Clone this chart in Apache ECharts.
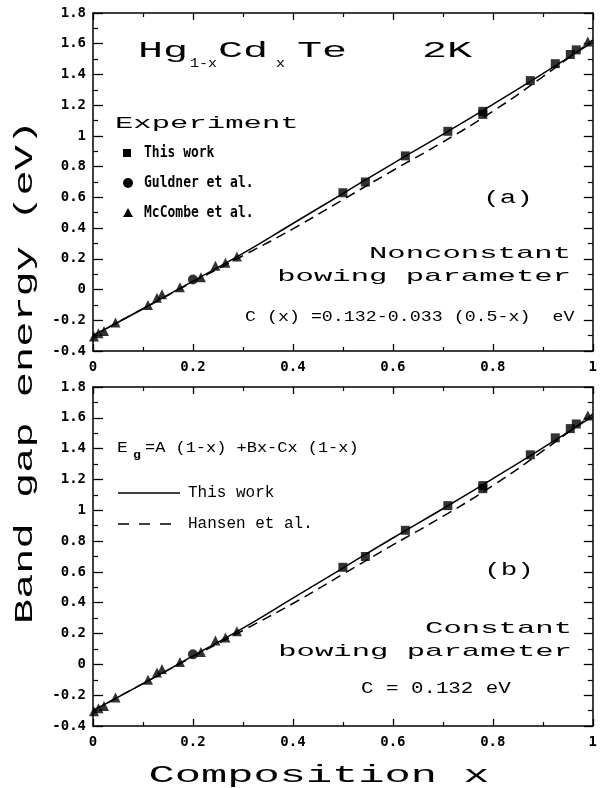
<!DOCTYPE html>
<html>
<head>
<meta charset="utf-8">
<script src="https://cdn.jsdelivr.net/npm/echarts@6/dist/echarts.min.js"></script>
<style>
  html, body { margin: 0; padding: 0; background: #fff; }
  #chart { width: 600px; height: 788px; }
</style>
</head>
<body>
<div id="chart"></div>
<script>
// Band gap of Hg(1-x)Cd(x)Te at 2 K versus composition x.

// Calculated curves, sampled along the composition axis
const compGrid      = [0.0, 0.1, 0.2, 0.3, 0.4, 0.5, 0.6, 0.7, 0.8, 0.9, 1.0];
const thisWorkCurve = [-0.30, -0.125, 0.055, 0.235, 0.43, 0.625, 0.82, 1.01, 1.205, 1.405, 1.61];
const hansenCurve   = [-0.30, -0.125, 0.05, 0.22, 0.395, 0.585, 0.775, 0.96, 1.16, 1.385, 1.625];

// Experimental points
const thisWorkX = [0.50, 0.545, 0.625, 0.71, 0.78, 0.78, 0.875, 0.925, 0.955, 0.967];
const thisWorkY = [0.63, 0.70, 0.87, 1.03, 1.16, 1.14, 1.36, 1.47, 1.53, 1.56];
const guldnerX  = [0.20];
const guldnerY  = [0.065];
const mccombeX  = [0.002, 0.011, 0.022, 0.045, 0.11, 0.128, 0.138, 0.174, 0.216, 0.245, 0.265, 0.288, 0.99];
const mccombeY  = [-0.305, -0.285, -0.27, -0.215, -0.10, -0.053, -0.03, 0.015, 0.08, 0.155, 0.175, 0.215, 1.615];

// Axis ranges and tick steps
const xRange = [0, 1];
const yRange = [-0.4, 1.8];
const xStep = 0.2;
const yStep = 0.2;

const pairs = (xs, ys) => xs.map((x, i) => [x, ys[i]]);

const wideFont = "'Liberation Mono', 'DejaVu Sans Mono', monospace";
const tickFont = "'DejaVu Sans Mono', monospace";
const INK = '#000';

const fmt = v => String(Number(v.toFixed(1)));

const panels = [
  { top: 13, height: 338 },
  { top: 387, height: 339 }
];

const grid = panels.map(p => ({ left: 93, right: 5, top: p.top, height: p.height }));

const frameLine = { show: true, onZero: false, lineStyle: { color: INK, width: 1.5 } };

const xAxis = [];
const yAxis = [];
panels.forEach((p, g) => {
  xAxis.push({
    gridIndex: g, type: 'value', position: 'bottom',
    min: xRange[0], max: xRange[1], interval: xStep,
    axisLine: frameLine,
    axisTick: { show: true, inside: true, length: 7, lineStyle: { color: INK, width: 1.3 } },
    minorTick: { show: true, splitNumber: 2, length: 4, lineStyle: { color: INK, width: 1.2 } },
    splitLine: { show: false },
    axisLabel: { show: true, margin: 9, color: INK, fontFamily: tickFont, fontWeight: 'bold', fontSize: 14, formatter: fmt }
  });
  xAxis.push({
    gridIndex: g, type: 'value', position: 'top',
    min: xRange[0], max: xRange[1], interval: xStep,
    axisLine: frameLine,
    axisTick: { show: true, inside: true, length: 7, lineStyle: { color: INK, width: 1.3 } },
    minorTick: { show: true, splitNumber: 2, length: 4, lineStyle: { color: INK, width: 1.2 } },
    splitLine: { show: false },
    axisLabel: { show: false }
  });
  yAxis.push({
    gridIndex: g, type: 'value', position: 'left',
    min: yRange[0], max: yRange[1], interval: yStep,
    axisLine: frameLine,
    axisTick: { show: true, inside: true, length: 10, lineStyle: { color: INK, width: 1.3 } },
    minorTick: { show: true, splitNumber: 2, length: 5, lineStyle: { color: INK, width: 1.2 } },
    splitLine: { show: false },
    axisLabel: { show: true, margin: 7, color: INK, fontFamily: tickFont, fontWeight: 'bold', fontSize: 14, formatter: fmt }
  });
  yAxis.push({
    gridIndex: g, type: 'value', position: 'right',
    min: yRange[0], max: yRange[1], interval: yStep,
    axisLine: frameLine,
    axisTick: { show: true, inside: true, length: 9, lineStyle: { color: INK, width: 1.3 } },
    minorTick: { show: true, splitNumber: 2, length: 5, lineStyle: { color: INK, width: 1.2 } },
    splitLine: { show: false },
    axisLabel: { show: false }
  });
});

const series = [];
panels.forEach((p, g) => {
  const axes = { xAxisIndex: 2 * g, yAxisIndex: 2 * g };
  series.push({
    name: 'Hansen et al.', type: 'line', ...axes, data: pairs(compGrid, hansenCurve),
    smooth: true, symbol: 'none', z: 2, silent: true,
    lineStyle: { color: INK, width: 1.5, type: [10, 6] }
  });
  series.push({
    name: 'This work', type: 'line', ...axes, data: pairs(compGrid, thisWorkCurve),
    smooth: true, symbol: 'none', z: 3, silent: true,
    lineStyle: { color: INK, width: 1.5 }
  });
  series.push({
    name: 'This work (data)', type: 'scatter', ...axes, data: pairs(thisWorkX, thisWorkY),
    symbol: 'rect', symbolSize: 9, z: 4, silent: true, itemStyle: { color: INK }
  });
  series.push({
    name: 'Guldner et al.', type: 'scatter', ...axes, data: pairs(guldnerX, guldnerY),
    symbol: 'circle', symbolSize: 10, z: 4, silent: true, itemStyle: { color: INK }
  });
  series.push({
    name: 'McCombe et al.', type: 'scatter', ...axes, data: pairs(mccombeX, mccombeY),
    symbol: 'triangle', symbolSize: 10, z: 4, silent: true, itemStyle: { color: INK }
  });
});

// Text helper: plotter-style lettering stretched along its baseline
function txt(text, x, y, o = {}) {
  const style = {
    text,
    font: o.font || (o.size || 17) + 'px ' + (o.family || wideFont),
    fill: INK,
    align: o.align || 'left',
    verticalAlign: 'middle',
    textAlign: o.align || 'left',
    textVerticalAlign: 'middle'
  };
  return {
    type: 'text', x, y, z: 10, silent: true,
    scaleX: o.sx || 1, scaleY: o.sy || 1,
    rotation: o.rot || 0,
    style
  };
}

const graphic = [
  // panel (a) heading
  txt('Hg', 138, 51, { size: 22, sx: 1.9 }),
  txt('1-x', 190, 64, { size: 12, sx: 1.25 }),
  txt('Cd', 218, 51, { size: 22, sx: 1.9 }),
  txt('x', 276, 64, { size: 12, sx: 1.25 }),
  txt('Te', 297, 51, { size: 22, sx: 1.9 }),
  txt('2K', 422, 51, { size: 22, sx: 1.9 }),

  txt('Experiment', 115, 123, { size: 17, sx: 1.8 }),

  // symbol key for the experimental data
  { type: 'rect', shape: { x: 123, y: 149, width: 8, height: 8 }, style: { fill: INK }, silent: true },
  { type: 'circle', shape: { cx: 128, cy: 183, r: 5 }, style: { fill: INK }, silent: true },
  { type: 'polygon', shape: { points: [[128, 208], [133, 217], [123, 217]] }, style: { fill: INK }, silent: true },
  txt('This work', 144, 153, { font: 'bold 13px ' + tickFont, sy: 1.2 }),
  txt('Guldner et al.', 144, 183, { font: 'bold 13px ' + tickFont, sy: 1.2 }),
  txt('McCombe et al.', 144, 213, { font: 'bold 13px ' + tickFont, sy: 1.2 }),

  txt('(a)', 508, 198, { size: 19, sx: 1.45, align: 'center' }),
  txt('Nonconstant', 571, 253, { size: 17, sx: 1.8, align: 'right' }),
  txt('bowing parameter', 571, 276, { size: 17, sx: 1.8, align: 'right' }),
  txt('C (x) =0.132-0.033 (0.5-x)  eV', 245, 317, { size: 15, sx: 1.22 }),

  // panel (b)
  txt('E', 117, 448, { size: 15, sx: 1.2 }),
  txt('g', 133, 455, { font: 'bold 11px ' + wideFont, sx: 1.2 }),
  txt('=A (1-x) +Bx-Cx (1-x)', 145, 448, { size: 15, sx: 1.13 }),

  { type: 'line', shape: { x1: 118, y1: 493, x2: 180, y2: 493 }, style: { stroke: INK, lineWidth: 1.5 }, silent: true },
  { type: 'line', shape: { x1: 118, y1: 524, x2: 172, y2: 524 }, style: { stroke: INK, lineWidth: 1.5, lineDash: [11, 10] }, silent: true },
  txt('This work', 188, 493, { size: 16 }),
  txt('Hansen et al.', 188, 524, { size: 16 }),

  txt('(b)', 509, 570, { size: 19, sx: 1.45, align: 'center' }),
  txt('Constant', 572, 628, { size: 17, sx: 1.8, align: 'right' }),
  txt('bowing parameter', 572, 651, { size: 17, sx: 1.8, align: 'right' }),
  txt('C = 0.132 eV', 361, 689, { size: 16, sx: 1.3 }),

  // axis titles
  txt('Composition x', 319, 776, { size: 23, sx: 1.9, align: 'center' }),
  txt('Band gap energy (eV)', 25, 372, { size: 25, sx: 1.68, align: 'center', rot: Math.PI / 2 })
];

const chart = echarts.init(document.getElementById('chart'), null, { renderer: 'canvas' });
chart.setOption({
  backgroundColor: '#fff',
  animation: false,
  grid, xAxis, yAxis, series, graphic
});
</script>
</body>
</html>
